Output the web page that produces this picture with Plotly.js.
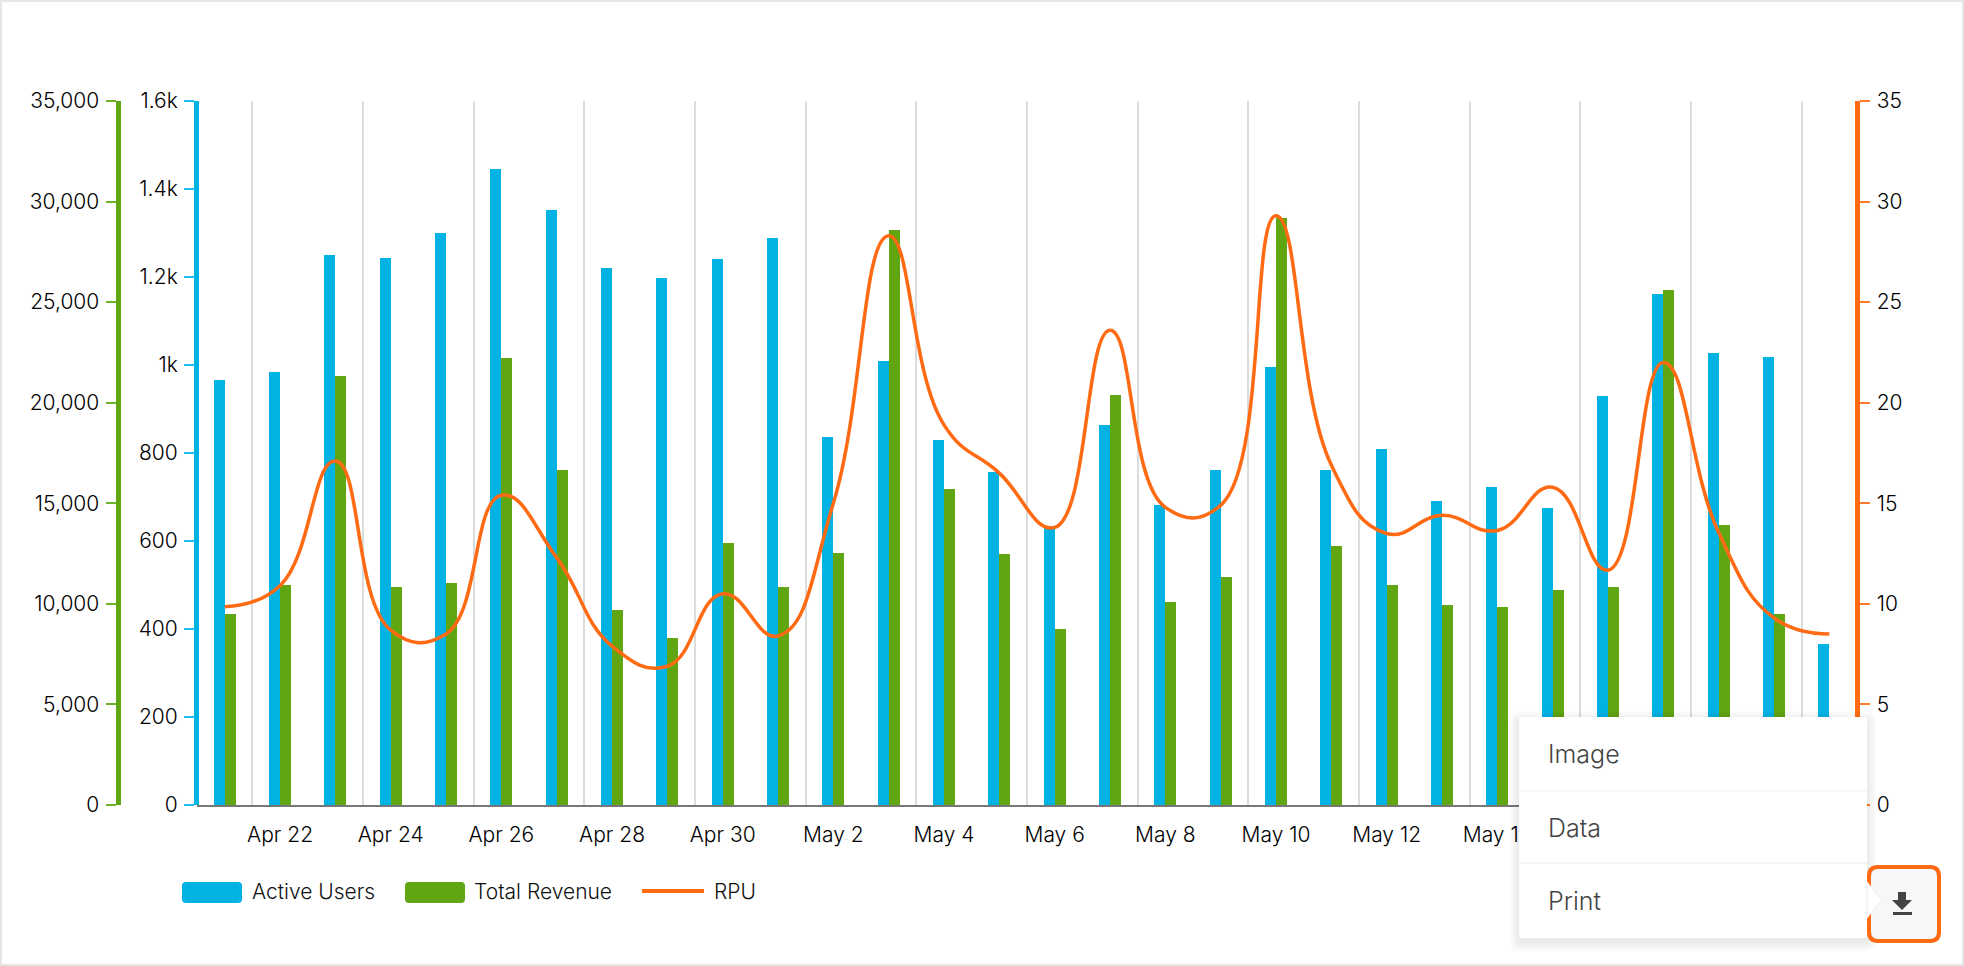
<!DOCTYPE html>
<html>
<head>
<meta charset="utf-8">
<script src="https://cdn.plot.ly/plotly-3.0.1.min.js"></script>
<style>html,body{margin:0;padding:0;background:#fff}#chart{width:1964px;height:966px}</style>
</head>
<body>
<div id="chart"></div>
<script>
const days = ["Apr 21","Apr 22","Apr 23","Apr 24","Apr 25","Apr 26","Apr 27","Apr 28","Apr 29","Apr 30",
  "May 1","May 2","May 3","May 4","May 5","May 6","May 7","May 8","May 9","May 10",
  "May 11","May 12","May 13","May 14","May 15","May 16","May 17","May 18","May 19","May 20"];
const activeUsers = [967,984,1249,1243,1300,1446,1352,1221,1198,1241,1289,836,1010,830,756,633,864,682,761,995,761,810,690,722,676,930,1161,1027,1018,365];
const totalRevenue = [9483,10918,21337,10856,11043,22211,16658,9670,8298,13039,10856,12540,28574,15722,12478,8735,20402,10107,11355,29198,12852,10918,9920,9858,10669,10856,25580,13913,9483,0];
const rpu = [9.86,10.9,17.1,8.7,8.5,15.4,12.3,7.9,6.9,10.5,8.4,15.0,28.3,18.9,16.5,13.8,23.6,14.8,14.9,29.3,16.9,13.5,14.4,13.65,15.8,11.67,22.0,13.55,9.3,8.5];
const usersTicks = [0,200,400,600,800,1000,1200,1400,1600];
const usersTickText = ["0","200","400","600","800","1k","1.2k","1.4k","1.6k"];
const menuItems = ["Image","Data","Print"];
const seriesNames = ["Active Users","Total Revenue","RPU"];
const labelsHiddenByMenu = ["May 16","May 18","May 20"];

const W = 1964, H = 966;
const BLUE = "#00b3e3", GREEN = "#60a512", ORANGE = "#ff6a13", FONT = "Inter, sans-serif";
const px = v => v / W, py = v => 1 - v / H;
const rr = (x0,y0,x1,y1,r) => `M${px(x0+r)},${py(y0)}L${px(x1-r)},${py(y0)}Q${px(x1)},${py(y0)} ${px(x1)},${py(y0+r)}L${px(x1)},${py(y1-r)}Q${px(x1)},${py(y1)} ${px(x1-r)},${py(y1)}L${px(x0+r)},${py(y1)}Q${px(x0)},${py(y1)} ${px(x0)},${py(y1-r)}L${px(x0)},${py(y0+r)}Q${px(x0)},${py(y0)} ${px(x0+r)},${py(y0)}Z`;
const poly = pts => "M" + pts.map(p => `${px(p[0])},${py(p[1])}`).join("L") + "Z";
const paperPath = (path, fill, line, lw) => ({type:"path", xref:"paper", yref:"paper", layer:"above", path, fillcolor:fill, line:{color:line||"rgba(0,0,0,0)", width:lw||0}});
const label = (text, x, y, size, color) => ({text, x:px(x), y:py(y), xref:"paper", yref:"paper", xanchor:"left", yanchor:"middle", showarrow:false, font:{family:FONT, size, color, weight:300}});

const traces = [
  {type:"bar", name:seriesNames[0], x:days, y:activeUsers, yaxis:"y", width:0.2, offset:-0.2, marker:{color:BLUE}},
  {type:"bar", name:seriesNames[1], x:days, y:totalRevenue, yaxis:"y2", width:0.2, offset:0, marker:{color:GREEN}},
  {type:"scatter", mode:"lines", name:seriesNames[2], x:days, y:rpu, yaxis:"y3", line:{color:ORANGE, width:3.5, shape:"spline", smoothing:1.3}}
];

const yBase = {anchor:"free", domain:[py(805), py(101)], showgrid:false, zeroline:false, showline:true, linewidth:5, ticks:"outside", ticklen:10, tickwidth:2, ticklabelstandoff:2, tickfont:{family:FONT, size:21, color:"#000", weight:300}};

const shapes = [];
shapes.push(paperPath(rr(182,882,242,903,4), BLUE));
shapes.push(paperPath(rr(405,882,465,903,4), GREEN));
shapes.push({type:"line", xref:"paper", yref:"paper", layer:"above", x0:px(642), x1:px(704), y0:py(891), y1:py(891), line:{color:ORANGE, width:4}});
for (let i = 10; i >= 1; i--) shapes.push(paperPath(rr(1519-i,717-i+4,1867+i,938+i+4,i+1), "rgba(0,0,0,0.009)"));
shapes.push(paperPath(rr(1519,717,1867,938,2), "#ffffff"));
shapes.push({type:"line", xref:"paper", yref:"paper", layer:"above", x0:px(1519), x1:px(1867), y0:py(791), y1:py(791), line:{color:"#f6f6f6", width:1.5}});
shapes.push({type:"line", xref:"paper", yref:"paper", layer:"above", x0:px(1519), x1:px(1867), y0:py(863), y1:py(863), line:{color:"#f4f4f4", width:2}});
shapes.push(paperPath(rr(1869,867,1939,941,9), "#f7f7f7", ORANGE, 4));
shapes.push(paperPath(poly([[1867,882],[1882,900],[1867,918]]), "#ffffff", "#ececec", 1));
shapes.push(paperPath(poly([[1898,892],[1906,892],[1906,900],[1912,900],[1902,910],[1892,900],[1898,900]]), "#444444"));
shapes.push(paperPath(poly([[1893,912],[1912,912],[1912,915],[1893,915]]), "#444444"));
shapes.push({type:"rect", xref:"paper", yref:"paper", layer:"above", x0:0, x1:1, y0:0, y1:1, line:{color:"#e6e6e6", width:4}, fillcolor:"rgba(0,0,0,0)"});

const annotations = [
  label(seriesNames[0], 250, 891, 21, "#111"),
  label(seriesNames[1], 472, 891, 21, "#111"),
  label(seriesNames[2], 712, 891, 21, "#111"),
  label(menuItems[0], 1546, 754, 25, "#444"),
  label(menuItems[1], 1546, 828, 25, "#444"),
  label(menuItems[2], 1546, 901, 25, "#444")
];

const layout = {
  width:W, height:H, margin:{l:0,r:0,t:0,b:0}, paper_bgcolor:"#fff", plot_bgcolor:"#fff",
  showlegend:false, bargap:0, hovermode:false,
  xaxis:{type:"category", domain:[px(197), px(1857)], range:[-0.5,29.5], tickmode:"linear", tick0:1, dtick:2, tickson:"boundaries", tickangle:0,
    labelalias:Object.fromEntries(labelsHiddenByMenu.map(t => [t, " "])),
    ticks:"", showgrid:true, gridcolor:"#dcdcdc", gridwidth:2, showline:true, linecolor:"#777", linewidth:2, zeroline:false, anchor:"y",
    ticklabelstandoff:10, tickfont:{family:FONT, size:21, color:"#000", weight:300}},
  yaxis:Object.assign({}, yBase, {range:[0,1600], tickmode:"array", tickvals:usersTicks, ticktext:usersTickText, position:px(196), linecolor:BLUE, tickcolor:"#22bdea", side:"left"}),
  yaxis2:Object.assign({}, yBase, {range:[0,35000], dtick:5000, tickformat:",", position:px(117.5), linecolor:GREEN, tickcolor:"#6cb32a", side:"left", overlaying:"y"}),
  yaxis3:Object.assign({}, yBase, {range:[0,35], dtick:5, ticklabelstandoff:3, position:px(1856.5), linecolor:ORANGE, tickcolor:"#ff7a2a", side:"right", overlaying:"y"}),
  shapes, annotations
};
Plotly.newPlot("chart", traces, layout, {displayModeBar:false, responsive:false});
</script>
</body>
</html>
